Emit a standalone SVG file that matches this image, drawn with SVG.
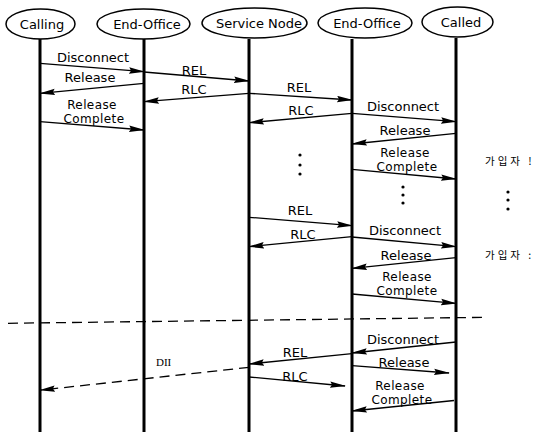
<svg xmlns="http://www.w3.org/2000/svg" width="539" height="432" viewBox="0 0 539 432">
<defs>
<style>
.node ellipse{fill:#fff;stroke:#000;stroke-width:1.5}
.node text{font-family:"DejaVu Sans",sans-serif;font-size:13px;fill:#000;text-anchor:middle}
.life{stroke:#000;stroke-width:3}
.msg{stroke:#000;stroke-width:1.3;fill:none;marker-end:url(#ah)}
.dash{stroke:#000;stroke-width:1.3;fill:none;stroke-dasharray:10 6}
.lbl{font-family:"DejaVu Sans",sans-serif;font-size:13px;fill:#000;text-anchor:middle}
.two{font-size:12px;letter-spacing:0.4px}
.ser{font-family:"Liberation Serif",serif;font-size:11px;fill:#000}
.kr{font-family:"Noto Sans CJK KR",sans-serif;font-size:10.5px;fill:#000;letter-spacing:3px}
.dot{fill:#000}
</style>
<marker id="ah" markerUnits="userSpaceOnUse" markerWidth="16" markerHeight="7" refX="15" refY="3.5" orient="auto">
<path d="M0,0.3 L16,3.5 L0,6.7 L2,3.5 z" fill="#000"/>
</marker>
</defs>
<rect width="539" height="432" fill="#fff"/>
<g id="lifelines">
<line class="life" x1="40" y1="39" x2="40" y2="432"/>
<line class="life" x1="144" y1="39" x2="144" y2="432"/>
<line class="life" x1="249" y1="39" x2="249" y2="432"/>
<line class="life" x1="352" y1="39" x2="352" y2="432"/>
<line class="life" x1="456" y1="38" x2="456" y2="432"/>
</g>
<g id="calling" class="node"><ellipse cx="40.5" cy="24" rx="34.5" ry="15"/><text x="42" y="29">Calling</text></g>
<g id="endoffice1" class="node"><ellipse cx="143.5" cy="24" rx="46.5" ry="15"/><text x="147" y="29">End-Office</text></g>
<g id="servicenode" class="node"><ellipse cx="254.5" cy="23" rx="52.5" ry="15"/><text x="259" y="28">Service Node</text></g>
<g id="endoffice2" class="node"><ellipse cx="365" cy="23" rx="47" ry="15"/><text x="367" y="28">End-Office</text></g>
<g id="called" class="node"><ellipse cx="457.5" cy="22" rx="35.5" ry="15"/><text x="461" y="27">Called</text></g>
<g id="connectors">
<line class="msg" x1="40" y1="63.3" x2="144" y2="71.7"/>
<line class="msg" x1="144" y1="72" x2="249" y2="81"/>
<line class="msg" x1="144" y1="83.3" x2="40" y2="93.3"/>
<line class="msg" x1="249" y1="93.3" x2="144" y2="101.7"/>
<line class="msg" x1="40" y1="121.7" x2="144" y2="130"/>
<line class="msg" x1="249" y1="93.3" x2="352" y2="100"/>
<line class="msg" x1="352" y1="113.3" x2="249" y2="122.7"/>
<line class="msg" x1="352" y1="113.3" x2="456" y2="121.7"/>
<line class="msg" x1="456" y1="133.3" x2="352" y2="144"/>
<line class="msg" x1="352" y1="169.3" x2="456" y2="179"/>
<line class="msg" x1="249" y1="217.3" x2="352" y2="225.7"/>
<line class="msg" x1="352" y1="236.7" x2="249" y2="246.7"/>
<line class="msg" x1="352" y1="237" x2="456" y2="246.7"/>
<line class="msg" x1="456" y1="257.7" x2="352" y2="268.3"/>
<line class="msg" x1="352" y1="294" x2="456" y2="303.3"/>
<line class="msg" x1="456" y1="342" x2="352" y2="353"/>
<line class="msg" x1="352" y1="353.6" x2="249" y2="364"/>
<line class="msg" x1="352" y1="365.6" x2="449" y2="373"/>
<line class="msg dash" x1="249" y1="367.3" x2="40" y2="390.2"/>
<line class="msg" x1="249" y1="377" x2="345" y2="386"/>
<line class="msg" x1="454" y1="400.5" x2="352" y2="411"/>
<line class="dash" x1="8" y1="323.3" x2="487" y2="317.3"/>
</g>
<g id="labels">
<text class="lbl" x="93" y="62">Disconnect</text>
<text class="lbl" x="194" y="75">REL</text>
<text class="lbl" x="90" y="82">Release</text>
<text class="lbl" x="194" y="94">RLC</text>
<text class="lbl two" y="108.5"><tspan x="92">Release</tspan><tspan x="94" dy="14.2">Complete</tspan></text>
<text class="lbl" x="299" y="92">REL</text>
<text class="lbl" x="301" y="115">RLC</text>
<text class="lbl" x="403" y="111">Disconnect</text>
<text class="lbl" x="405" y="135">Release</text>
<text class="lbl two" y="156.5"><tspan x="405">Release</tspan><tspan x="407" dy="14.2">Complete</tspan></text>
<text class="lbl" x="300" y="215">REL</text>
<text class="lbl" x="303" y="239">RLC</text>
<text class="lbl" x="405" y="235">Disconnect</text>
<text class="lbl" x="406" y="260">Release</text>
<text class="lbl two" y="280.5"><tspan x="407">Release</tspan><tspan x="407" dy="14.2">Complete</tspan></text>
<text class="lbl" x="403" y="344">Disconnect</text>
<text class="lbl" x="295" y="357">REL</text>
<text class="lbl" x="404" y="367">Release</text>
<text class="ser" x="156" y="366">DII</text>
<text class="lbl" x="295" y="381">RLC</text>
<text class="lbl two" y="389.5"><tspan x="400">Release</tspan><tspan x="402" dy="14.2">Complete</tspan></text>
<text class="kr" x="485" y="165">가입자 !</text>
<text class="kr" x="485" y="259">가입자 :</text>
</g>
<g id="dots">
<circle class="dot" cx="300" cy="155" r="1.6"/>
<circle class="dot" cx="300" cy="165" r="1.6"/>
<circle class="dot" cx="300" cy="174" r="1.6"/>
<circle class="dot" cx="403" cy="187" r="1.6"/>
<circle class="dot" cx="403" cy="195" r="1.6"/>
<circle class="dot" cx="403" cy="203" r="1.6"/>
<circle class="dot" cx="508" cy="192" r="1.6"/>
<circle class="dot" cx="508" cy="200" r="1.6"/>
<circle class="dot" cx="508" cy="209" r="1.6"/>
</g>
</svg>
